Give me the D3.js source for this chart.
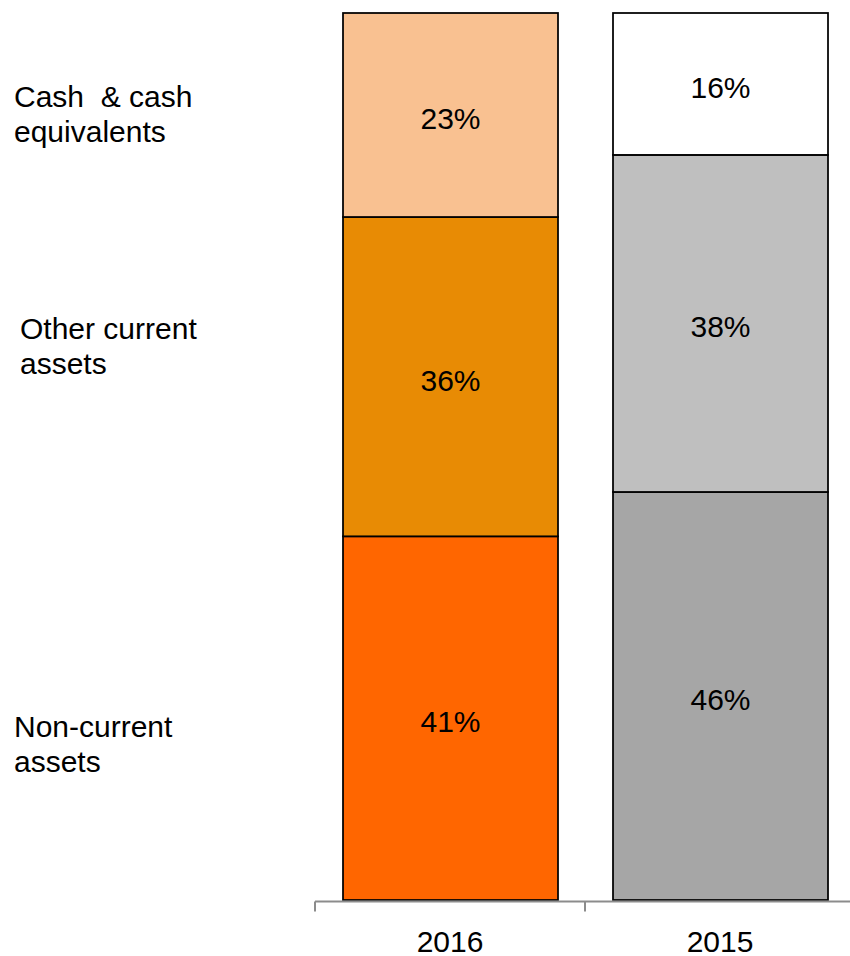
<!DOCTYPE html>
<html>
<head>
<meta charset="utf-8">
<script src="https://cdn.jsdelivr.net/npm/d3@7"></script>
<style>
  body { margin: 0; background: #fff; }
  text { font-family: "Liberation Sans", Arial, sans-serif; fill: #000; }
</style>
</head>
<body>
<div id="chart"></div>
<script>
// years on the x axis
const years = ["2016", "2015"];
// stacked from the bottom up
const segments = ["Non-current assets", "Other current assets", "Cash & cash equivalents"];
const values2016 = [41, 36, 23];
const values2015 = [46, 38, 16];
const colors2016 = ["#FF6600", "#E88B04", "#F9C191"];
const colors2015 = ["#A6A6A6", "#BFBFBF", "#FFFFFF"];

const width = 850, height = 956;
const svg = d3.select("#chart").append("svg")
    .attr("width", width)
    .attr("height", height);

const x = d3.scaleBand().domain(years).range([315, 855])
    .paddingInner(0.2).paddingOuter(0.1);
const y = d3.scaleLinear().domain([0, 100]).range([900, 13]);

let data = [];
let byYear = {"2016": [values2016, colors2016], "2015": [values2015, colors2015]};
for (let yr of years) {
    let acc = 0;
    let vals = byYear[yr][0];
    vals.forEach(function(v, i) {
        data.push({year: yr, seg: segments[i], y0: acc, y1: acc + v, value: v, color: byYear[yr][1][i]});
        acc += v;
    });
}

svg.selectAll(".bar")
    .data(data)
    .enter().append("rect").attr("class", "bar")
    .attr("x", function(d) { return x(d.year) + 1; })
    .attr("width", x.bandwidth() - 1)
    .attr("y", function(d) { return y(d.y1); })
    .attr("height", function(d) { return y(d.y0) - y(d.y1); })
    .attr("fill", function(d) { return d.color; })
    .attr("stroke", "#000")
    .attr("stroke-width", 1.75);

svg.selectAll(".val")
    .data(data)
    .enter().append("text").attr("class", "val")
    .attr("x", function(d) { return x(d.year) + x.bandwidth() / 2 + 0.5; })
    .attr("y", function(d) { return (y(d.y0) + y(d.y1)) / 2 + 14; })
    .attr("text-anchor", "middle")
    .style("font-size", "30px")
    .text(function(d) { return d.value + "%"; });

// x axis: line with ticks at the band edges
const axisY = 901.5;
const r = x.range();
const g = svg.append("g");
g.append("line")
    .attr("x1", r[0]).attr("x2", r[1])
    .attr("y1", axisY).attr("y2", axisY)
    .attr("stroke", "#8C8C8C").attr("stroke-width", 2);
let edges = years.map(function(d) { return x(d) - x.step() * x.paddingInner() / 2; });
edges[0] = r[0];
edges.push(r[1]);
g.selectAll(".tick")
    .data(edges)
    .enter().append("line")
    .attr("x1", function(d) { return d; }).attr("x2", function(d) { return d; })
    .attr("y1", axisY).attr("y2", axisY + 10)
    .attr("stroke", "#8C8C8C").attr("stroke-width", 2);

const xAxis = svg.append("g")
    .attr("transform", "translate(0," + axisY + ")")
    .call(d3.axisBottom(x).tickSize(0).tickPadding(0));
xAxis.select(".domain").remove();
xAxis.selectAll("text")
    .attr("y", 50)
    .attr("dy", null)
    .style("font-size", "30px")
    .style("font-family", "'Liberation Sans', Arial, sans-serif")
    .attr("fill", "#000");

// category labels on the left
const legendLines = [
    {lines: ["Cash\u00a0 & cash", "equivalents"], x: 14, y: 107},
    {lines: ["Other current", "assets"], x: 20, y: 339},
    {lines: ["Non-current", "assets"], x: 14, y: 737}
];
legendLines.forEach(function(l) {
    let t = svg.append("text")
        .attr("x", l.x).attr("y", l.y)
        .style("font-size", "30px");
    l.lines.forEach(function(s, i) {
        t.append("tspan").attr("x", l.x).attr("dy", i === 0 ? 0 : 35).text(s);
    });
});
</script>
</body>
</html>
